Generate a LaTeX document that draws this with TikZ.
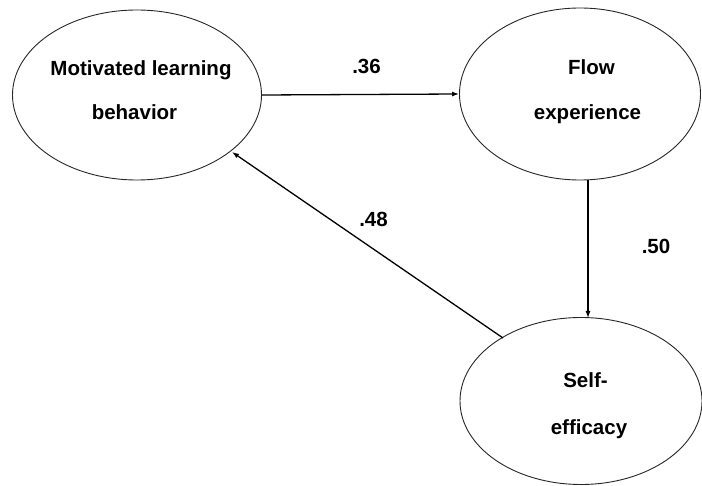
\documentclass[tikz,border=0pt]{standalone}
\usepackage{fontspec}
\setmainfont{Liberation Sans}
\usetikzlibrary{shapes.geometric,arrows.meta}
\begin{document}
\begin{tikzpicture}[x=1pt,y=-1pt,
  latent/.style={draw=black!85,line width=0.9pt,ellipse,inner sep=0pt},
  lbl/.style={font=\fontsize{20.5}{24}\selectfont\bfseries,inner sep=0pt,anchor=base},
  path/.style={line width=1.3pt,-{Latex[length=7pt,width=5pt]}}]
\useasboundingbox (0,0) rectangle (702,486);
\node[latent,minimum width=249pt,minimum height=170pt] (mlb) at (137,95) {};
\node[latent,minimum width=241pt,minimum height=172pt] (flow) at (580,94) {};
\node[latent,minimum width=242pt,minimum height=167pt] (se) at (581,401) {};
\node[lbl] (t1) at (141,76) {Motivated learning};
\node[lbl] (t2) at (134.5,120) {behavior};
\node[lbl] (t3) at (591.5,75) {Flow};
\node[lbl] (t4) at (587.5,119.5) {experience};
\node[lbl] (t5) at (585.5,388) {Self-};
\node[lbl] (t6) at (589,435) {efficacy};
\draw[path] (mlb.east) -- (flow.west);
\coordinate (b1) at (588,180);
\coordinate (b2) at (588,318);
\draw[path] (b1) -- (b2);
\coordinate (c1) at (503,338);
\coordinate (c2) at (232,152);
\draw[path] (c1) -- (c2);
\node[lbl] (l1) at (366.5,74) {.36};
\node[lbl] (l2) at (373.5,227) {.48};
\node[lbl] (l3) at (656,254) {.50};
\end{tikzpicture}
\end{document}
